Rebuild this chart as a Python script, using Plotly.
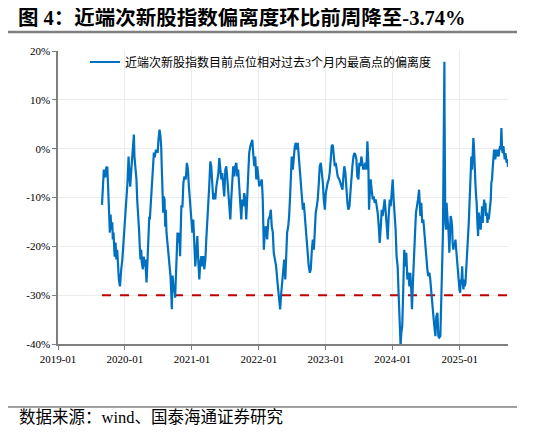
import plotly.graph_objects as go

# 近端次新股指数目前点位相对过去3个月内最高点的偏离度（%），按年分段
md_2019 = ['08-29', '09-03', '09-08', '09-16', '09-21', '09-27', '09-30', '10-04', '10-08', '10-11',
           '10-15', '10-19', '10-24', '10-27', '10-31', '11-06', '11-11', '11-15', '11-20', '11-24',
           '11-29', '12-05', '12-08', '12-12', '12-18', '12-21', '12-26', '12-30']
dev_2019 = [-11.5, -6.3, -4.3, -5.9, -3.9, -3.7, -6.3, -11.9, -15.1, -17.2,
            -13.5, -16.6, -15.1, -18.6, -17.2, -22.1, -19.2, -22.7, -20.7, -25.4,
            -26.8, -28.2, -26.2, -24.7, -22.7, -20.7, -17.2, -16.0]

md_2020 = ['01-04', '01-10', '01-15', '01-21', '01-25', '01-30', '02-05', '02-10', '02-15', '02-19',
           '02-22', '02-26', '03-01', '03-04', '03-08', '03-11', '03-15', '03-19', '03-22', '03-26',
           '03-30', '04-02', '04-08', '04-13', '04-17', '04-21', '04-24', '04-28', '05-02', '05-05',
           '05-09', '05-13', '05-16', '05-20', '05-23', '05-27', '05-31', '06-03', '06-07', '06-12',
           '06-18', '06-23', '06-28', '07-02', '07-08', '07-13', '07-17', '07-20', '07-24', '07-28',
           '07-31', '08-04', '08-08', '08-11', '08-15', '08-19', '08-22', '08-26', '08-30', '09-02',
           '09-06', '09-09', '09-13', '09-17', '09-20', '09-24', '09-27', '10-01', '10-06', '10-14',
           '10-19', '10-24', '10-28', '11-01', '11-04', '11-10', '11-15', '11-21', '11-28', '12-04',
           '12-10', '12-15', '12-21', '12-26']
dev_2020 = [-13.9, -9.8, -7.0, -1.6, -4.9, -7.8, -4.3, -2.2, 0.4, 2.9,
            -1.6, -3.7, -4.3, -6.3, -10.4, -11.9, -13.9, -17.2, -20.0, -22.7,
            -20.7, -23.3, -24.7, -22.1, -24.1, -22.7, -24.7, -27.4, -24.1, -20.0,
            -17.2, -13.9, -14.5, -11.9, -9.8, -7.0, -4.3, -2.9, -0.8, -1.8,
            -0.2, -0.6, -0.8, 1.8, 3.9, 2.5, 0.4, -3.7, -12.5, -13.1,
            -9.8, -10.4, -16.0, -12.5, -17.2, -18.6, -20.0, -21.3, -22.7, -24.7,
            -26.2, -28.8, -32.9, -26.0, -27.0, -29.4, -28.2, -30.5, -25.4, -17.2,
            -19.3, -17.2, -22.0, -15.9, -11.8, -11.8, -7.0, -5.7, -6.3, -2.9,
            -4.3, -7.7, -10.4, -13.8]

md_2021 = ['01-03', '01-08', '01-14', '01-19', '01-25', '01-30', '02-04', '02-10', '02-15', '02-21',
           '02-26', '03-04', '03-09', '03-15', '03-20', '03-26', '03-31', '04-05', '04-11', '04-16',
           '04-22', '04-27', '05-03', '05-08', '05-14', '05-19', '05-25', '05-30', '06-04', '06-10',
           '06-15', '06-21', '06-26', '07-02', '07-07', '07-13', '07-18', '07-24', '07-29', '08-03',
           '08-09', '08-14', '08-20', '08-25', '08-31', '09-05', '09-10', '09-16', '09-21', '09-27',
           '10-02', '10-08', '10-13', '10-19', '10-24', '10-29', '11-04', '11-09', '11-15', '11-20',
           '11-26', '12-01', '12-07', '12-12', '12-18', '12-23', '12-29']
dev_2021 = [-17.2, -14.5, -18.6, -24.1, -20.7, -17.9, -22.7, -26.8, -23.4, -22.0,
            -24.1, -22.0, -24.7, -22.7, -18.6, -12.5, -11.1, -7.7, -2.6, -3.6,
            -7.7, -10.4, -9.1, -10.4, -7.7, -6.3, -5.0, -1.9, -4.3, -6.3,
            -5.0, -8.4, -9.8, -4.3, -3.6, -6.3, -9.1, -11.1, -14.5, -10.4,
            -7.0, -3.6, -5.7, -3.6, -2.9, -5.7, -4.3, -7.7, -10.4, -14.5,
            -10.4, -11.8, -9.1, -10.4, -14.5, -10.4, -5.7, -0.9, 0.5, 1.2,
            1.8, -0.9, -3.6, -1.6, -6.3, -3.6, -7.0]

md_2022 = ['01-03', '01-11', '01-17', '01-22', '01-28', '02-02', '02-08', '02-15', '02-22', '03-02',
           '03-07', '03-12', '03-18', '03-23', '03-31', '04-05', '04-11', '04-16', '04-22', '04-27',
           '05-03', '05-08', '05-14', '05-19', '05-25', '05-30', '06-04', '06-10', '06-15', '06-21',
           '06-26', '06-29', '07-05', '07-10', '07-16', '07-21', '07-27', '08-01', '08-07', '08-12',
           '08-18', '08-23', '08-29', '09-03', '09-08', '09-14', '09-19', '09-25', '09-30', '10-06',
           '10-11', '10-17', '10-22', '10-28', '11-02', '11-07', '11-13', '11-18', '11-24', '11-29',
           '12-05', '12-10', '12-16', '12-21', '12-27']
dev_2022 = [-7.7, -7.0, -6.3, -10.4, -20.7, -17.2, -15.9, -18.6, -14.5, -13.8,
            -12.5, -15.9, -17.2, -21.3, -22.7, -24.1, -26.8, -28.8, -30.9, -32.9,
            -29.5, -26.8, -23.4, -22.7, -26.8, -22.7, -17.2, -15.9, -13.8, -9.1,
            -3.6, -1.6, -4.3, -0.9, 0.5, 1.2, -0.2, 1.2, -2.2, -3.6,
            -6.3, -10.4, -12.5, -11.1, -13.8, -15.9, -18.6, -21.3, -24.1, -25.4,
            -24.7, -20.7, -18.6, -20.7, -17.2, -13.1, -11.8, -10.4, -7.0, -3.6,
            -2.9, -4.3, -7.0, -10.4, -12.5]

md_2023 = ['01-01', '01-06', '01-11', '01-17', '01-22', '01-28', '02-02', '02-08', '02-13', '02-19',
           '02-24', '03-02', '03-07', '03-16', '03-22', '03-27', '04-02', '04-07', '04-12', '04-18',
           '04-23', '04-29', '05-04', '05-10', '05-15', '05-21', '05-26', '06-01', '06-06', '06-11',
           '06-17', '06-22', '06-28', '07-03', '07-09', '07-14', '07-20', '07-25', '07-31', '08-05',
           '08-10', '08-16', '08-21', '08-25', '08-28', '09-03', '09-08', '09-14', '09-19', '09-25',
           '09-30', '10-06', '10-11', '10-17', '10-22', '10-28', '11-02', '11-07', '11-13', '11-18',
           '11-24', '11-29', '12-05', '12-10', '12-16', '12-21', '12-27']
dev_2023 = [-9.1, -7.7, -7.0, -6.3, -5.0, -2.2, 0.5, 0.8, -2.2, -3.6,
            -2.9, -4.3, -5.7, -6.3, -7.0, -7.7, -8.4, -5.7, -3.6, -5.0,
            -9.1, -11.1, -12.5, -11.8, -9.1, -5.0, -3.6, -1.6, -0.9, -1.2,
            -2.2, -5.7, -6.3, -2.9, -3.6, -1.6, -2.9, -4.3, -3.6, -2.9,
            -4.3, 1.5, -2.9, -12.5, -9.8, -6.3, -8.4, -10.4, -9.8, -11.1,
            -10.4, -11.8, -13.1, -15.9, -19.3, -15.9, -12.5, -13.8, -11.1, -10.4,
            -13.1, -15.2, -18.6, -13.8, -10.4, -11.8, -8.4]

md_2024 = ['01-01', '01-06', '01-11', '01-17', '01-22', '01-28', '02-02', '02-06', '02-10', '02-13',
           '02-17', '02-22', '02-26', '03-01', '03-04', '03-10', '03-15', '03-21', '03-26', '04-01',
           '04-06', '04-12', '04-15', '04-21', '04-26', '05-02', '05-07', '05-13', '05-18', '05-24',
           '05-31', '06-05', '06-10', '06-16', '06-21', '06-27', '07-02', '07-08', '07-13', '07-19',
           '07-24', '07-30', '08-04', '08-10', '08-15', '08-21', '08-26', '09-01', '09-06', '09-11',
           '09-17', '09-20', '09-24', '09-27', '10-01', '10-05', '10-09', '10-10', '10-12', '10-14',
           '10-18', '10-21', '10-25', '10-29', '11-01', '11-05', '11-09', '11-12', '11-16', '11-20',
           '11-23', '11-27', '12-01', '12-04', '12-08', '12-12', '12-15', '12-19', '12-23', '12-26',
           '12-30']
dev_2024 = [-6.3, -10.4, -12.5, -16.6, -22.0, -24.1, -29.5, -34.3, -37.7, -40.3,
            -37.7, -36.3, -30.9, -26.1, -20.7, -24.1, -21.3, -26.8, -25.4, -28.2,
            -25.4, -29.5, -32.9, -26.8, -20.0, -17.2, -13.1, -11.8, -10.4, -8.4,
            -13.8, -11.1, -15.2, -14.5, -17.2, -20.7, -22.0, -24.7, -26.1, -25.4,
            -26.8, -30.2, -31.6, -34.3, -36.3, -38.4, -34.3, -33.6, -38.4, -38.7,
            -38.4, -35.0, -30.2, -23.4, -17.2, -4.3, 17.8, 6.6, -7.0, -15.2,
            -16.6, -11.1, -13.8, -15.2, -17.2, -21.3, -17.9, -13.8, -14.5, -15.9,
            -19.3, -20.7, -19.3, -20.0, -18.6, -20.7, -22.0, -24.1, -26.1, -27.5,
            -28.8]

md_2025 = ['01-03', '01-06', '01-10', '01-14', '01-17', '01-21', '01-25', '01-28', '02-01', '02-04',
           '02-08', '02-12', '02-15', '02-19', '02-22', '02-26', '03-02', '03-05', '03-09', '03-12',
           '03-16', '03-20', '03-23', '03-27', '03-31', '04-03', '04-07', '04-11', '04-14', '04-18',
           '04-22', '04-25', '04-29', '05-03', '05-06', '05-10', '05-14', '05-17', '05-21', '05-24',
           '05-28', '06-01', '06-04', '06-08', '06-11', '06-15', '06-19', '06-22', '06-26', '06-29',
           '07-03', '07-07', '07-10', '07-14', '07-18', '07-21', '07-25', '07-29', '08-01', '08-05',
           '08-09', '08-12', '08-16', '08-20', '08-23', '08-27', '08-31', '09-03', '09-07', '09-10',
           '09-14', '09-18', '09-21']
dev_2025 = [-29.5, -26.8, -27.5, -24.1, -27.5, -28.8, -26.8, -28.2, -27.5, -24.7,
            -23.4, -20.7, -17.9, -15.2, -11.1, -8.4, -2.9, -1.6, -4.3, -2.2,
            2.2, -0.2, -5.7, -7.0, -9.8, -11.1, -15.2, -17.9, -13.1, -13.8,
            -15.2, -16.6, -13.8, -11.8, -15.2, -11.8, -10.4, -12.5, -11.1, -13.8,
            -13.1, -15.2, -13.8, -14.5, -13.1, -11.8, -10.4, -7.0, -6.3, -4.3,
            -2.9, -0.2, -0.9, -2.2, -0.2, -1.6, -0.2, -0.9, -1.6, -0.2,
            0.5, -0.2, 4.2, -0.2, -0.9, 0.5, -1.6, -2.2, -0.9, -2.2,
            -2.9, -2.2, -3.74]

years = [2019, 2020, 2021, 2022, 2023, 2024, 2025]
month_days = [md_2019, md_2020, md_2021, md_2022, md_2023, md_2024, md_2025]
devs = [dev_2019, dev_2020, dev_2021, dev_2022, dev_2023, dev_2024, dev_2025]

threshold = -30

x_tick_vals = ['2019-01-01', '2020-01-01', '2021-01-01', '2022-01-01', '2023-01-01', '2024-01-01', '2025-01-01']
x_tick_text = ['2019-01', '2020-01', '2021-01', '2022-01', '2023-01', '2024-01', '2025-01']
y_tick_vals = [20, 10, 0, -10, -20, -30, -40]
y_tick_text = ['20%', '10%', '0%', '-10%', '-20%', '-30%', '-40%']

title_text = '图 4：近端次新股指数偏离度环比前周降至-3.74%'
series_name = '近端次新股指数目前点位相对过去3个月内最高点的偏离度'
source_text = '数据来源：wind、国泰海通证券研究'

FONT = 'Liberation Serif, Times New Roman, Noto Sans CJK SC'

# the page keeps an 8px body margin, so the figure is a bit smaller than the window
W, H = 520, 421


dates = []
deviation = []
for year, md, dev in zip(years, month_days, devs):
    dates += [f'{year}-{d}' for d in md]
    deviation += dev

fig = go.Figure()

fig.add_trace(
    go.Scatter(
        x=[dates[0], dates[-1]],
        y=[threshold, threshold],
        mode='lines',
        line=dict(color='#C00000', width=2, dash='dash'),
        showlegend=False,
        hoverinfo='skip'
    )
)

fig.add_trace(
    go.Scatter(
        x=dates,
        y=deviation,
        name=series_name,
        mode='lines',
        line=dict(color='#0070C0', width=2.2)
    )
)

fig.update_layout(
    width=W,
    height=H,
    margin=dict(l=50, r=20, t=43, b=85),
    paper_bgcolor='white',
    plot_bgcolor='white',
    font=dict(family=FONT, size=11, color='#000000'),
    title=dict(
        text='<b>' + title_text + '</b>',
        x=10 / W, xanchor='left', xref='container',
        y=1 - 10 / H, yanchor='middle', yref='container',
        font=dict(family=FONT, size=20.5, color='#000000')
    ),
    legend=dict(
        x=0.06, y=1.012, xanchor='left', yanchor='top',
        bgcolor='rgba(0,0,0,0)',
        font=dict(family=FONT, size=12),
        itemwidth=30
    ),
    shapes=[
        dict(type='line', xref='paper', yref='paper', x0=-0.116, x1=1.02, y0=1.065, y1=1.065,
             line=dict(color='#808080', width=2.5)),
        dict(type='line', xref='paper', yref='paper', x0=-0.116, x1=1.02, y0=-0.215, y1=-0.215,
             line=dict(color='#404040', width=1)),
    ],
    annotations=[
        dict(text=source_text, xref='paper', yref='paper', x=-0.089, y=-0.288,
             xanchor='left', yanchor='bottom', showarrow=False, borderpad=0,
             font=dict(family=FONT, size=16.5, color='#000000'))
    ],
)

fig.update_xaxes(
    type='date',
    range=['2019-01-01', dates[-1]],
    tickvals=x_tick_vals,
    ticktext=x_tick_text,
    showgrid=True,
    gridcolor='#ececec',
    showline=True,
    linecolor='#7f7f7f',
    linewidth=1.5,
    ticks='outside',
    ticklen=4,
    tickcolor='#7f7f7f',
    zeroline=False,
    tickfont=dict(family=FONT, size=11)
)

fig.update_yaxes(
    range=[-40, 20],
    tickvals=y_tick_vals,
    ticktext=y_tick_text,
    showgrid=True,
    gridcolor='#ececec',
    showline=True,
    linecolor='#7f7f7f',
    linewidth=1.5,
    ticks='outside',
    ticklen=4,
    tickcolor='#7f7f7f',
    zeroline=False,
    tickfont=dict(family=FONT, size=11)
)

fig.write_html('out.html')
